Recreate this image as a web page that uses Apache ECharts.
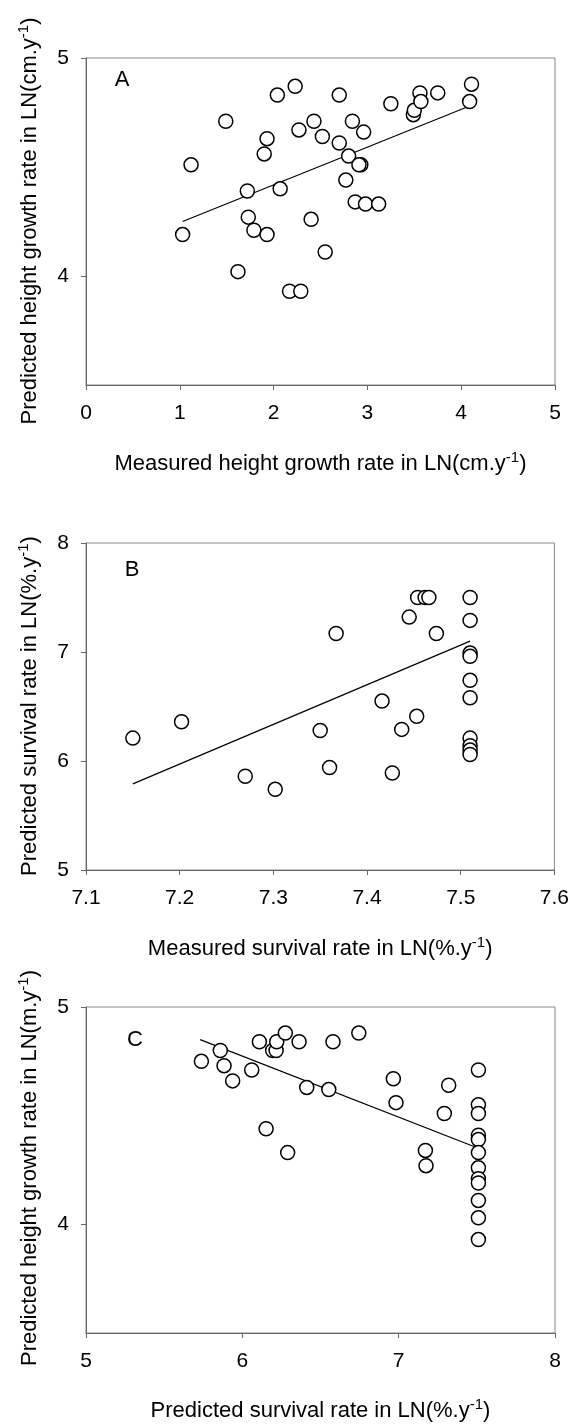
<!DOCTYPE html>
<html lang="en">
<head>
    <meta charset="UTF-8">
    <title>Predicted vs measured rates</title>
    <script src="https://cdn.jsdelivr.net/npm/echarts@6/dist/echarts.min.js"></script>
    <style>
        html, body { margin: 0; padding: 0; background: #fff; }
    </style>
</head>
<body>
    <div id="main" style="width: 572px;height:1424px;"></div>
    <script type="text/javascript">

        // panel A : measured vs predicted height growth
        var aX = [1.03,1.12,1.49,1.62,1.72,1.73,1.79,1.93,1.90,1.93,2.04,2.07,2.17,2.29,2.23,2.27,2.40,2.43,2.52,2.55,
                  2.70,2.70,2.77,2.80,2.84,2.87,2.93,2.91,2.96,2.98,3.12,3.25,3.49,3.50,3.56,3.57,3.75,4.09,4.11];
        var aY = [4.19,4.51,4.71,4.02,4.39,4.27,4.21,4.19,4.56,4.63,4.83,4.40,3.93,3.93,4.87,4.67,4.26,4.71,4.64,4.11,
                  4.83,4.61,4.44,4.55,4.71,4.34,4.51,4.51,4.66,4.33,4.33,4.79,4.74,4.76,4.84,4.80,4.84,4.80,4.88];
        var aTrendX = [1.03, 4.09];
        var aTrendY = [4.25, 4.78];
        var aXTicks = [0, 1, 2, 3, 4, 5];
        var aYTicks = [4, 5];

        // panel B : measured vs predicted survival
        var bX = [7.150,7.202,7.270,7.302,7.350,7.360,7.367,7.416,7.427,7.437,7.445,7.453,7.454,7.462,7.466,7.474,
                  7.51,7.51,7.51,7.51,7.51,7.51,7.51,7.51,7.51,7.51];
        var bY = [6.21,6.36,5.86,5.74,6.28,5.94,7.17,6.55,5.89,6.29,7.32,6.41,7.50,7.50,7.50,7.17,
                  7.50,7.29,6.99,6.96,6.74,6.58,6.21,6.14,6.10,6.06];
        var bTrendX = [7.15, 7.51];
        var bTrendY = [5.79, 7.10];
        var bXTicks = [7.1, 7.2, 7.3, 7.4, 7.5, 7.6];
        var bYTicks = [5, 6, 7, 8];

        // panel C : predicted survival vs predicted height growth
        var cX = [5.738,5.859,5.883,5.938,6.060,6.109,6.152,6.194,6.216,6.220,6.275,6.290,6.363,6.412,6.553,6.580,
                  6.745,6.966,6.983,7.171,7.175,7.292,7.320,
                  7.51,7.51,7.51,7.51,7.51,7.51,7.51,7.51,7.51,7.51,7.51,7.51];
        var cY = [4.75,4.80,4.73,4.66,4.71,4.84,4.44,4.80,4.80,4.84,4.88,4.33,4.84,4.63,4.62,4.84,
                  4.88,4.67,4.56,4.34,4.27,4.51,4.64,
                  4.71,4.55,4.51,4.41,4.39,4.33,4.26,4.21,4.19,4.11,4.03,3.93];
        var cTrendX = [5.73, 7.51];
        var cTrendY = [4.85, 4.35];
        var cXTicks = [5, 6, 7, 8];
        var cYTicks = [4, 5];

        function pairs(xs, ys) {
            return xs.map(function (x, i) { return [x, ys[i]]; });
        }

        var FONT = 'Liberation Sans';
        var AXIS_COLOR = '#666';
        var richTitle = {
            n: { fontFamily: FONT, fontSize: 22, color: '#000', lineHeight: 28 },
            s: { fontFamily: FONT, fontSize: 15, color: '#000', verticalAlign: 'top', lineHeight: 28, padding: [0, 0, 11, 0] }
        };
        // axis title with the "-1" exponent raised
        function title(main) {
            return '{n|' + main + '}{s|-1}{n|)}';
        }

        function xAxisOf(idx, min, max, interval, ticks, name, gap, decimals) {
            return {
                gridIndex: idx, type: 'value', min: min, max: max, interval: interval,
                name: name, nameLocation: 'middle', nameGap: gap,
                nameTextStyle: { rich: richTitle },
                axisLine: { show: true, lineStyle: { color: AXIS_COLOR, width: 1 } },
                axisTick: { show: true, inside: false, length: 5, customValues: ticks, lineStyle: { color: AXIS_COLOR } },
                axisLabel: { customValues: ticks, margin: 18, fontFamily: FONT, fontSize: 21, color: '#000',
                             formatter: function (v) { return v.toFixed(decimals); } },
                splitLine: { show: false }
            };
        }
        function yAxisOf(idx, min, max, interval, ticks) {
            return {
                gridIndex: idx, type: 'value', min: min, max: max, interval: interval,
                axisLine: { show: true, lineStyle: { color: AXIS_COLOR, width: 1 } },
                axisTick: { show: true, inside: false, length: 5, customValues: ticks, lineStyle: { color: AXIS_COLOR } },
                axisLabel: { customValues: ticks, margin: 17, fontFamily: FONT, fontSize: 21, color: '#000' },
                splitLine: { show: false }
            };
        }
        function dots(idx, xs, ys) {
            return {
                type: 'scatter', xAxisIndex: idx, yAxisIndex: idx,
                data: pairs(xs, ys), symbol: 'circle', symbolSize: 14, z: 3,
                itemStyle: { color: '#fff', borderColor: '#000', borderWidth: 1.5, opacity: 1 },
                emphasis: { disabled: true }
            };
        }
        function trend(idx, xs, ys) {
            return {
                type: 'line', xAxisIndex: idx, yAxisIndex: idx,
                data: pairs(xs, ys), showSymbol: false, symbol: 'none', z: 2,
                lineStyle: { color: '#000', width: 1.2 }
            };
        }
        function yTitle(x, y, main) {
            return {
                type: 'text', x: x, y: y, rotation: Math.PI / 2,
                style: { text: title(main), rich: richTitle, align: 'center', verticalAlign: 'middle' }
            };
        }
        function letter(x, y, t) {
            return {
                type: 'text', x: x, y: y,
                style: { text: t, fontFamily: FONT, fontSize: 22, fill: '#000', align: 'center', verticalAlign: 'middle' }
            };
        }

        var myChart = echarts.init(document.getElementById('main'), null, { renderer: 'canvas' });

        var gridBox = { show: true, borderColor: '#888', borderWidth: 1, backgroundColor: 'transparent' };
        var option = {
            animation: false,
            backgroundColor: '#fff',
            grid: [
                Object.assign({ left: 86, width: 469, top: 58, height: 327 }, gridBox),
                Object.assign({ left: 86, width: 469, top: 543, height: 327 }, gridBox),
                Object.assign({ left: 86, width: 469, top: 1007, height: 327 }, gridBox)
            ],
            xAxis: [
                xAxisOf(0, 0, 5, 1, aXTicks, title('Measured height growth rate in LN(cm.y'), 65, 0),
                xAxisOf(1, 7.1, 7.6, 0.1, bXTicks, title('Measured survival rate in LN(%.y'), 65, 1),
                xAxisOf(2, 5, 8, 1, cXTicks, title('Predicted survival rate in LN(%.y'), 64, 0)
            ],
            yAxis: [
                yAxisOf(0, 3.5, 5, 0.5, aYTicks),
                yAxisOf(1, 5, 8, 1, bYTicks),
                yAxisOf(2, 3.5, 5, 0.5, cYTicks)
            ],
            series: [
                trend(0, aTrendX, aTrendY), dots(0, aX, aY),
                trend(1, bTrendX, bTrendY), dots(1, bX, bY),
                trend(2, cTrendX, cTrendY), dots(2, cX, cY)
            ],
            graphic: [
                yTitle(30, 221, 'Predicted height growth rate in LN(cm.y'),
                yTitle(30, 706, 'Predicted survival rate in LN(%.y'),
                yTitle(30, 1168, 'Predicted height growth rate in LN(m.y'),
                letter(122, 80, 'A'),
                letter(132, 570, 'B'),
                letter(135, 1040, 'C')
            ]
        };
        myChart.setOption(option);

    </script>
</body>
</html>
